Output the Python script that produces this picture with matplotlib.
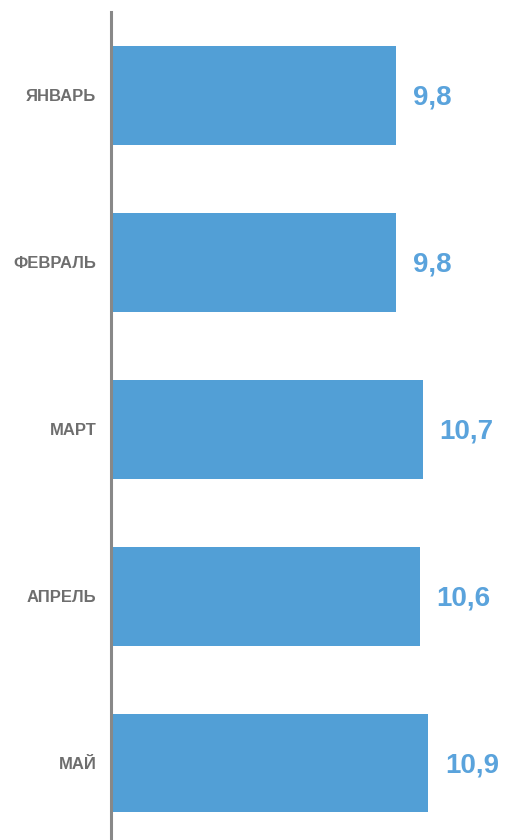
import matplotlib
matplotlib.use('Agg')
from matplotlib import pyplot as plt

months = ['ЯНВАРЬ', 'ФЕВРАЛЬ', 'МАРТ', 'АПРЕЛЬ', 'МАЙ']
values = [9.8, 9.8, 10.7, 10.6, 10.9]
value_labels = ['9,8', '9,8', '10,7', '10,6', '10,9']

plt.rcParams['font.family'] = ['Liberation Sans', 'DejaVu Sans']

fig = plt.figure(figsize=(5.07, 8.4), dpi=100)
ax = fig.add_axes([111 / 507, 0, 1 - 111 / 507, 1 - 12 / 840])

ypos = list(range(len(months)))
ax.barh(ypos, values, height=0.59, color='#529fd6', left=0)

for i in range(len(values)):
    ax.text(values[i] + 0.57, ypos[i] + 0.015, value_labels[i], va='center', ha='left',
            fontsize=20, fontweight='bold', color='#5aa3dc')

ax.set_xlim(0, 13.6)
ax.set_ylim(4.46, -0.5)
ax.set_yticks(ypos)
ax.set_yticklabels(months, fontsize=12, fontweight='bold', color='#6e6e6e')
ax.tick_params(axis='y', length=0, pad=10.5)
ax.set_xticks([])

for s in ['top', 'right', 'bottom']:
    ax.spines[s].set_visible(False)
ax.spines['left'].set_color('#888888')
ax.spines['left'].set_linewidth(2.2)

fig.savefig('out.png', dpi=100)
